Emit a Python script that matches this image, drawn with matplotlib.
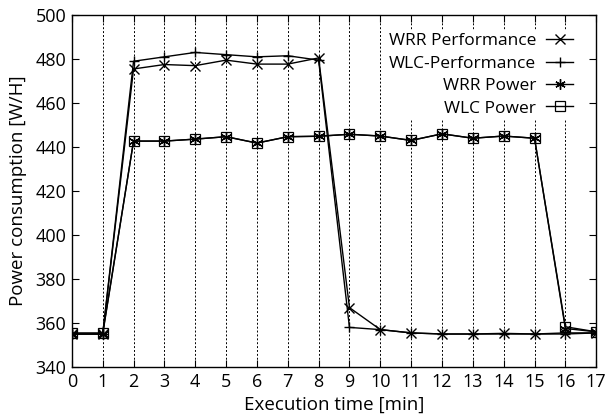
import matplotlib
matplotlib.use("Agg")
import matplotlib.pyplot as plt

plt.rcParams["font.family"] = ["Open Sans", "DejaVu Sans"]

minutes = list(range(18))
wrr_perf = [355, 355, 475.5, 477.5, 477, 479.5, 477.7, 477.7, 480.5, 367, 357, 355.5, 355, 355, 355.3, 355, 355.5, 355.5]
wlc_perf = [355, 355, 479, 481, 483, 482, 481, 481.5, 479.5, 358, 357, 355.5, 355, 355, 355, 355, 355, 355.5]
wrr_power = [355, 355, 442.7, 442.7, 443.6, 444.7, 441.8, 444.7, 444.9, 445.8, 445, 443, 446, 444, 445, 444, 357.5, 356]
wlc_power = [355.5, 355.5, 442.7, 442.7, 443.6, 444.7, 441.8, 444.7, 444.9, 445.8, 445, 443, 446, 444, 445, 444, 358.3, 356]

fig = plt.figure(figsize=(6.09, 4.18), dpi=100)
ax = fig.add_axes([0.118, 0.122, 0.861, 0.842])

kw = dict(color="black", linewidth=1.0, markersize=7.5, markeredgewidth=1.0)
ax.plot(minutes, wrr_perf, marker="x", label="WRR Performance", **kw)
ax.plot(minutes, wlc_perf, marker="+", label="WLC-Performance", **kw)
ax.plot(minutes, wrr_power, marker=(6, 2, 0), label="WRR Power", **kw)
ax.plot(minutes, wlc_power, marker="s", markerfacecolor="none", label="WLC Power",
        color="black", linewidth=1.0, markersize=7.5, markeredgewidth=0.9)

ax.set_xlim(0, 17)
ax.set_ylim(340, 500)
ax.set_xticks(minutes)
ax.set_yticks(range(340, 501, 20))
ax.grid(True, axis="x", linestyle=(0, (2, 2)), color="black", linewidth=0.7)
ax.tick_params(direction="in", length=5, top=True, right=True, labelsize=13, pad=4)
for s in ax.spines.values():
    s.set_linewidth(1.0)

ax.set_xlabel("Execution time [min]", fontsize=13.5, labelpad=4)
ax.set_ylabel("Power consumption [W/H]", fontsize=13.5, labelpad=6)

leg = ax.legend(loc="upper right", bbox_to_anchor=(0.978, 0.983), frameon=True,
                markerfirst=False, fontsize=12.5, handlelength=1.5,
                handletextpad=0.6, labelspacing=0.36, borderpad=0.2)
leg.get_frame().set_edgecolor("none")
leg.get_frame().set_facecolor("white")
leg.get_frame().set_alpha(1.0)
leg._legend_box.align = "right"

fig.savefig("out.png", dpi=100, facecolor="white")
